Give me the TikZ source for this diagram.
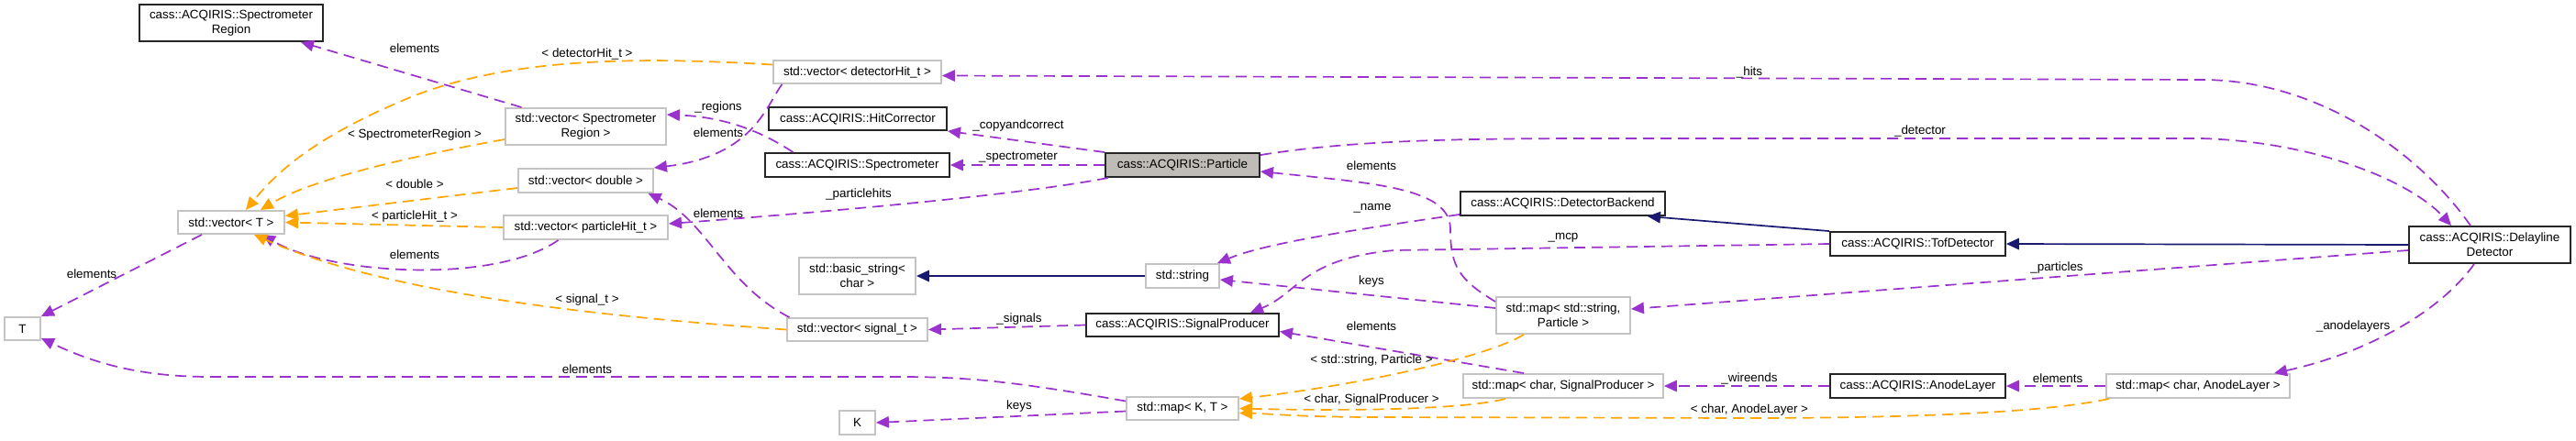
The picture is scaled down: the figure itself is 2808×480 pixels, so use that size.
\documentclass[tikz,border=0pt]{standalone}
\usepackage{fontspec}
\setmainfont{Liberation Sans}
\usetikzlibrary{arrows.meta}
\definecolor{purp}{HTML}{9A32CD}
\definecolor{orng}{HTML}{FFA500}
\definecolor{navy}{HTML}{191970}
\definecolor{gbord}{HTML}{C4C4C4}
\definecolor{pfill}{HTML}{BFBBB7}
\begin{document}
\begin{tikzpicture}[x=1pt,y=-1pt,
  every node/.style={font=\fontsize{13.4}{16}\selectfont, inner sep=0pt},
  cls/.style={draw=black!85, line width=1.9pt, fill=white, align=center},
  ext/.style={draw=gbord, line width=1.9pt, fill=white, align=center},
  lbl/.style={},
  tipa/.style={-{Triangle[length=14pt,width=12.5pt]}},
  use/.style={tipa, draw=purp, line width=1.7pt, dash pattern=on 12pt off 7pt},
  tmpl/.style={tipa, draw=orng, line width=1.7pt, dash pattern=on 12pt off 7pt},
  inh/.style={tipa, draw=navy, line width=1.7pt},
]
\fill[white] (0,0) rectangle (2808,480);
\useasboundingbox (0,0) rectangle (2808,480);

% nodes
\node[cls, minimum width=200pt, minimum height=40pt] (SR) at (252,25) {cass::ACQIRIS::Spectrometer\\Region};
\node[ext, minimum width=116pt, minimum height=25pt] (vT) at (252,242.5) {std::vector< T >};
\node[ext, minimum width=39pt, minimum height=25pt] (T) at (24.5,358.5) {T};
\node[ext, minimum width=175pt, minimum height=40pt] (vSR) at (638.5,138) {std::vector< Spectrometer\\Region >};
\node[ext, minimum width=147pt, minimum height=26pt] (vdbl) at (638.5,197) {std::vector< double >};
\node[ext, minimum width=179pt, minimum height=26pt] (vpH) at (638.5,248) {std::vector< particleHit\_t >};
\node[ext, minimum width=183pt, minimum height=25pt] (vdH) at (934.5,78.5) {std::vector< detectorHit\_t >};
\node[cls, minimum width=194pt, minimum height=25pt] (HC) at (935,129.5) {cass::ACQIRIS::HitCorrector};
\node[cls, minimum width=201pt, minimum height=26pt] (Spec) at (934.5,180) {cass::ACQIRIS::Spectrometer};
\node[ext, minimum width=127pt, minimum height=40pt] (bstr) at (934.5,301) {std::basic\_string<\\char >};
\node[ext, minimum width=153pt, minimum height=25pt] (vsig) at (934.5,359.5) {std::vector< signal\_t >};
\node[ext, minimum width=39pt, minimum height=26pt] (K) at (934.5,461) {K};
\node[cls, fill=pfill, minimum width=168pt, minimum height=26pt] (Part) at (1289,180) {cass::ACQIRIS::Particle};
\node[ext, minimum width=80pt, minimum height=26pt] (str) at (1289,301) {std::string};
\node[cls, minimum width=210pt, minimum height=25pt] (SP) at (1289,354.5) {cass::ACQIRIS::SignalProducer};
\node[ext, minimum width=122pt, minimum height=25pt] (mKT) at (1289,445.5) {std::map< K, T >};
\node[cls, minimum width=223pt, minimum height=26pt] (DB) at (1703.5,222) {cass::ACQIRIS::DetectorBackend};
\node[ext, minimum width=146pt, minimum height=40pt] (mSP) at (1704,344) {std::map< std::string,\\Particle >};
\node[ext, minimum width=218pt, minimum height=26pt] (mcSP) at (1704,421) {std::map< char, SignalProducer >};
\node[cls, minimum width=191pt, minimum height=26pt] (Tof) at (2090.5,266) {cass::ACQIRIS::TofDetector};
\node[cls, minimum width=191pt, minimum height=26pt] (AL) at (2090.5,421) {cass::ACQIRIS::AnodeLayer};
\node[ext, minimum width=200pt, minimum height=26pt] (mAL) at (2396,421) {std::map< char, AnodeLayer >};
\node[cls, minimum width=176pt, minimum height=40pt] (DD) at (2714,267) {cass::ACQIRIS::Delayline\\Detector};

% usage edges (purple)
\draw[use] ([xshift=-70pt]vSR.north) -- ([xshift=76pt]SR.south);
\draw[use] ([xshift=-82pt]vdH.south) .. controls (835,115) and (822,170) .. (vdbl.north east);
\draw[use] ([xshift=-70pt]Spec.north) .. controls (840,150) and (800,128) .. ([yshift=13pt]vSR.east);
\draw[use] (Part.north west) -- (HC.south east);
\draw[use] (Part.west) -- (Spec.east);
\draw[use] ([xshift=4pt]Part.south west) .. controls (1100,215) and (850,235) .. ([yshift=4pt]vpH.east);
\draw[use] ([xshift=-74pt]vsig.north) .. controls (790,310) and (770,240) .. ([xshift=68pt]vdbl.south);
\draw[use] ([xshift=-30pt]vpH.south) .. controls (540,310) and (360,300) .. ([xshift=34pt]vT.south);
\draw[use] ([xshift=27pt]vT.south west) -- (T.north east);
\draw[use] ([yshift=8pt]mKT.west) .. controls (1100,415) and (1050,411) .. (980,411) -- (230,411) .. controls (150,411) and (100,395) .. ([yshift=3pt]T.south east);
\draw[use] ([yshift=-3pt]mKT.west) -- (K.east);
\draw[use] (SP.west) -- (vsig.east);
\draw[use] ([xshift=-21pt]DD.north) .. controls (2640,170) and (2530,87) .. (2400,87) -- ([yshift=-4pt]vdH.east);
\draw[use] ([yshift=-3pt]Part.north east) .. controls (1480,152) and (1600,151) .. (1760,151) -- (2400,151) .. controls (2530,155) and (2630,200) .. ([xshift=-42pt]DD.north);
\draw[use] ([yshift=15pt]mSP.west) .. controls (1590,305) and (1581,290) .. (1581,250) .. controls (1581,205) and (1500,200) .. ([yshift=-7pt]Part.east);
\draw[use] ([yshift=2pt]DB.south west) .. controls (1480,250) and (1380,265) .. ([xshift=-3pt]str.north east);
\draw[use] (Tof.west) -- (1520,273) .. controls (1420,282) and (1415,320) .. ([xshift=74pt]SP.north);
\draw[use] ([yshift=8pt]mSP.west) -- ([yshift=-4pt]str.east);
\draw[use] ([xshift=-43pt]mcSP.north) -- ([yshift=-7pt]SP.east);
\draw[use] ([yshift=-6pt]DD.west) -- ([yshift=7pt]mSP.east);
\draw[use] (AL.west) -- (mcSP.east);
\draw[use] (mAL.west) -- (AL.east);
\draw[use] ([xshift=-17pt]DD.south) .. controls (2660,340) and (2580,385) .. ([xshift=-18pt]mAL.north east);

% template edges (orange)
\draw[tmpl] ([yshift=8pt]vdH.west) .. controls (700,62) and (560,62) .. (450,105) .. controls (340,150) and (300,190) .. ([xshift=16pt]vT.north);
\draw[tmpl] ([yshift=-14pt]vSR.west) .. controls (450,170) and (340,195) .. ([xshift=-27pt]vT.north east);
\draw[tmpl] ([yshift=-8pt]vdbl.west) -- ([yshift=7pt]vT.east);
\draw[tmpl] (vpH.west) -- (vT.east);
\draw[tmpl] (vsig.west) .. controls (650,345) and (420,320) .. ([xshift=25pt]vT.south);
\draw[tmpl] ([xshift=-43pt]mSP.south) .. controls (1620,390) and (1480,420) .. ([yshift=-3pt]mKT.north east);
\draw[tmpl] ([xshift=-63pt]mcSP.south) .. controls (1590,448) and (1450,448) .. (mKT.east);
\draw[tmpl] ([xshift=4pt]mAL.south west) .. controls (2220,452) and (2050,456) .. (1900,456) -- (1500,455) .. controls (1420,455) and (1380,451) .. ([yshift=-5pt]mKT.east);

% inheritance edges (navy)
\draw[inh] (str.west) -- (bstr.east);
\draw[inh] (Tof.north west) -- ([xshift=-20pt]DB.south east);
\draw[inh] (DD.west) -- (Tof.east);

% labels
\node[lbl] (l1) at (452,53) {elements};
\node[lbl] (l2) at (640,59) {< detectorHit\_t >};
\node[lbl] (l3) at (452,147) {< SpectrometerRegion >};
\node[lbl] (l4) at (452,201) {< double >};
\node[lbl] (l5) at (452,236) {< particleHit\_t >};
\node[lbl] (l6) at (452,278) {elements};
\node[lbl] (l7) at (100,299) {elements};
\node[lbl] (l8) at (640,327) {< signal\_t >};
\node[lbl] (l9) at (640,403) {elements};
\node[lbl] (l10) at (783,117) {\_regions};
\node[lbl] (l11) at (783,145) {elements};
\node[lbl] (l12) at (1110,137) {\_copyandcorrect};
\node[lbl] (l13) at (1110,172) {\_spectrometer};
\node[lbl] (l14) at (936,212) {\_particlehits};
\node[lbl] (l15) at (783,233) {elements};
\node[lbl] (l16) at (1111,348) {\_signals};
\node[lbl] (l17) at (1111,443) {keys};
\node[lbl] (l18) at (1495,181) {elements};
\node[lbl] (l19) at (1496,227) {\_name};
\node[lbl] (l20) at (1704,259) {\_mcp};
\node[lbl] (l21) at (1495,307) {keys};
\node[lbl] (l22) at (1495,356) {elements};
\node[lbl] (l23) at (1495,393) {< std::string, Particle >};
\node[lbl] (l24) at (1495,436) {< char, SignalProducer >};
\node[lbl] (l25) at (1907,79) {\_hits};
\node[lbl] (l26) at (2093,143) {\_detector};
\node[lbl] (l27) at (2242,292) {\_particles};
\node[lbl] (l28) at (1907,413) {\_wireends};
\node[lbl] (l29) at (2243,413) {elements};
\node[lbl] (l30) at (2565,356) {\_anodelayers};
\node[lbl] (l31) at (1907,447) {< char, AnodeLayer >};
\end{tikzpicture}
\end{document}
